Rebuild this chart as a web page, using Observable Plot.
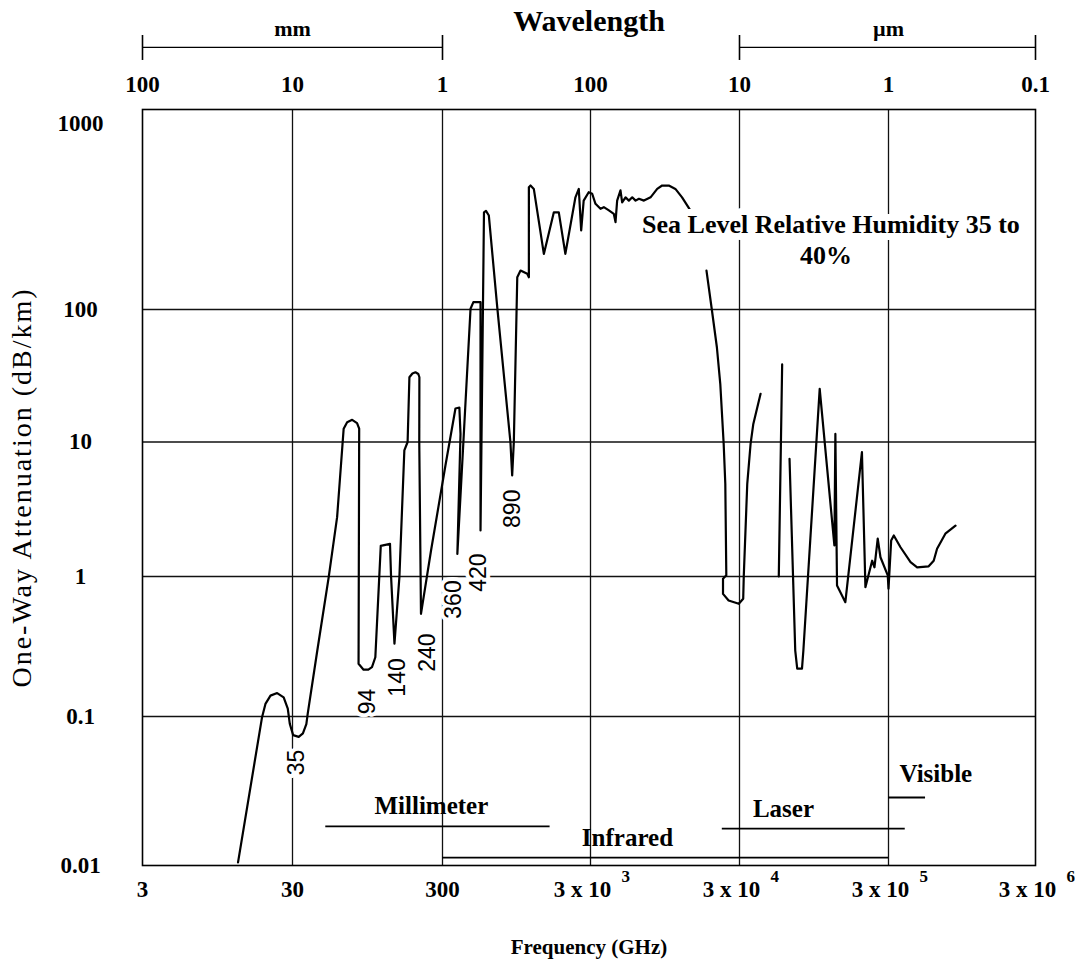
<!DOCTYPE html>
<html>
<head>
<meta charset="utf-8">
<script src="https://cdn.jsdelivr.net/npm/d3@7"></script>
<script src="https://cdn.jsdelivr.net/npm/@observablehq/plot@0.6"></script>
<style>
  html, body { margin: 0; padding: 0; background: #fff; }
</style>
</head>
<body>
<div id="chart"></div>
<script>
// ---------- axis data ----------
const freqTicks = [3, 30, 300, 3000, 30000, 300000, 3000000];
const freqTickBase = ["3", "30", "300", "3 x 10", "3 x 10", "3 x 10", "3 x 10"];
const freqTickExp = ["", "", "", "3", "4", "5", "6"];
const wavelengthTickLabels = ["100", "10", "1", "100", "10", "1", "0.1"];
const attenTicks = [0.01, 0.1, 1, 10, 100, 1000];
const attenTickLabels = ["0.01", "0.1", "1", "10", "100", "1000"];
const attenGrid = [0.1, 1, 10, 100];
const freqGrid = [30, 300, 3000, 30000, 300000];
const wavelengthUnits = ["mm", "\u00b5m"];
const unitFrom = [3, 30000];
const unitTo = [300, 3000000];
const unitCenter = [30, 300000];

// ---------- attenuation curve, [frequency GHz, dB/km] ----------
const curveMillimeter = [
  [13.0,0.0105],[18.8,0.099],[19.8,0.123],[21.4,0.141],[23.7,0.147],[26.2,0.137],
  [27.9,0.114],[28.8,0.089],[30.3,0.075],[33.0,0.073],[35.2,0.077],[37.1,0.089],
  [37.9,0.105],[43.9,0.296],[52.3,0.99],[59.5,2.76],[65.8,12.6],[69.4,14.1],
  [75.0,14.7],[80.8,13.9],[83.5,12.6],[82.7,0.238],[89.3,0.216],[96.1,0.216],
  [101.6,0.225],[107,0.265],[116.3,1.69],[134,1.75],[136.1,1.02],[143.5,0.331],
  [154.8,0.99],[167,8.65],[175.6,10],[180.5,30.8],[189,32.9],[198,33.6],[207,32.6],
  [210.4,30.8],[210,10],[215.6,0.541],[251.6,1.56],[314,6.69],[367,17.9],[390,18.2],
  [397,11.5],[378,1.47],[418,11.5],[464,101],[485,109.5],[542,109.5],[542,2.2],
  [572,333],[590,339],[617,320],[703,102.9],[863,10],[887,5.64],[910,10],[960,149],
  [1010,162],[1121,155.6],[1150,149],[1150,454.6],[1180,464],[1242,445],[1452,199],
  [1696,333],[1832,333],[2029,199],[2373,401],[2500,445],[2595,266],[2698,385],
  [2917,427],[3079,419],[3240,370],[3501,348],[3687,355],[3986,341],[4299,327],
  [4416,295],[4529,385],[4768,437],[4893,377],[5155,401],[5427,385],[5718,401],
  [6021,385],[6340,394],[6855,385],[7590,401],[8409,445],[9075,464],[10060,464],
  [11140,445],[12350,401],[14040,341]
];
const curveFarInfrared = [
  [18010,162],[19600,98.3],[21150,51.9],[22290,27.5],[23490,9.7],[24090,4.89],
  [24470,1.02],[23250,0.964],[23250,0.751],[25350,0.674],[29680,0.638],[31770,0.693],
  [32060,1.02],[33820,4.89],[35610,9.7],[37140,13.7],[41550,23.1]
];
const curveSpike = [[55050,1.0],[58000,38.5]];
const curveNearInfrared = [
  [65000,7.5],[71000,0.296],[73200,0.22],[78800,0.22],[80500,0.296],[103600,25.2],
  [130000,1.70],[132000,11.5],[135400,0.862],[154000,0.655],[199000,8.4],[210000,0.839],
  [233000,1.31],[241500,1.17],[254000,1.91],[265000,1.39],[296600,1.02],[300000,0.82],
  [312800,1.85],[326000,2.02],[362000,1.65],[423700,1.28],[470000,1.17],[563000,1.19],
  [609000,1.31],[642000,1.61],[731000,2.08],[857000,2.39]
];
const curveSegments = [curveMillimeter, curveFarInfrared, curveSpike, curveNearInfrared];

// ---------- window labels (rotated) ----------
const windowLabels = ["35", "94", "140", "240", "360", "420", "890"];
const windowLabelFreq = [31.9, 94.9, 150, 238, 356, 525, 891];
const windowLabelAtten = [0.0491, 0.128, 0.19, 0.286, 0.685, 1.07, 3.19];

// ---------- spectral bands ----------
const bandNames = ["Millimeter", "Infrared", "Laser", "Visible"];
const bandFrom = [50, 300, 23000, 300000];
const bandTo = [1600, 300000, 390000, 536000];
const bandLevel = [0.0183, 0.0113, 0.0177, 0.0286];
const bandLabelFreq = [253, 5310, 59200, 630000];
const bandLabelAtten = [0.0249, 0.0154, 0.0241, 0.0414];

// ---------- annotation ----------
const noteLines = ["Sea Level Relative Humidity 35 to", "40%"];
const noteFreq = [123300, 114000];
const noteAtten = [286, 195];

const yTitle = "One-Way Attenuation (dB/km)";
const xTitle = "Frequency (GHz)";
const topTitle = "Wavelength";

// header (wavelength bracket) levels expressed on the extended y scale
const bracketLevel = 4000, bracketTickTop = 5050, bracketTickBottom = 3100;

const serif = "'Liberation Serif','Times New Roman',serif";
const sans = "'Liberation Sans',Arial,sans-serif";
const idx = a => a.map((_, i) => i);

const chart = Plot.plot({
  width: 1075,
  height: 966,
  marginLeft: 142,
  marginRight: 40,
  marginTop: 109,
  marginBottom: 101,
  style: {background: "#fff", color: "#000"},
  x: {type: "log", domain: freqTicks, range: [142, 292, 442, 590, 739, 888, 1035], axis: null},
  y: {type: "log", domain: [0.01, 0.1, 1, 10, 100, 1000, 1190, 10000],
      range: [865, 716, 576, 441.5, 309, 123, 109, 0], axis: null},
  marks: [
    // grid
    Plot.ruleY(attenGrid, {y: d => d, stroke: "#111", strokeWidth: 1.3}),
    Plot.ruleX(freqGrid, {x: d => d, stroke: "#111", strokeWidth: 1.3}),
    // curves
    ...curveSegments.map(seg => Plot.line(seg, {
      x: d => d[0], y: d => d[1], stroke: "#000", strokeWidth: 2.2,
      strokeLinejoin: "round", strokeLinecap: "round"
    })),
    // bands
    Plot.ruleY(idx(bandNames), {y: i => bandLevel[i], x1: i => bandFrom[i], x2: i => bandTo[i],
      stroke: "#000", strokeWidth: 1.8}),
    Plot.text(idx(bandNames), {x: i => bandLabelFreq[i], y: i => bandLabelAtten[i], text: i => bandNames[i],
      fontFamily: serif, fontWeight: "bold", fontSize: 25, fill: "#000"}),
    // window labels
    Plot.text(idx(windowLabels), {x: i => windowLabelFreq[i], y: i => windowLabelAtten[i], text: i => windowLabels[i],
      rotate: -90, fontFamily: sans, fontSize: 23, fill: "#000", stroke: "#fff", strokeWidth: 8, paintOrder: "stroke"}),
    // humidity note
    Plot.text(idx(noteLines), {x: i => noteFreq[i], y: i => noteAtten[i], text: i => noteLines[i],
      fontFamily: serif, fontWeight: "bold", fontSize: 26, fill: "#000", stroke: "#fff", strokeWidth: 14, paintOrder: "stroke"}),
    // frame
    Plot.frame({stroke: "#000", strokeWidth: 1.6}),
    // y tick labels
    Plot.text(attenTicks, {y: d => d, text: (d, i) => attenTickLabels[i], frameAnchor: "left", dx: -62,
      textAnchor: "middle", lineAnchor: "middle", fontFamily: serif, fontWeight: "bold", fontSize: 23, fill: "#000"}),
    // x tick labels
    Plot.text(freqTicks.slice(0, 3), {x: d => d, text: (d, i) => freqTickBase[i], frameAnchor: "bottom", dy: 24,
      lineAnchor: "middle", fontFamily: serif, fontWeight: "bold", fontSize: 23, fill: "#000"}),
    Plot.text(freqTicks.slice(3), {x: d => d, text: (d, i) => freqTickBase[i + 3], frameAnchor: "bottom", dy: 24, dx: -8,
      lineAnchor: "middle", fontFamily: serif, fontWeight: "bold", fontSize: 23, fill: "#000"}),
    Plot.text(freqTicks.slice(3), {x: d => d, text: (d, i) => freqTickExp[i + 3], frameAnchor: "bottom", dy: 11, dx: 31,
      lineAnchor: "middle", textAnchor: "start", fontFamily: serif, fontWeight: "bold", fontSize: 17, fill: "#000"}),
    // top wavelength labels
    Plot.text(freqTicks, {x: d => d, text: (d, i) => wavelengthTickLabels[i], frameAnchor: "top", dy: -25,
      lineAnchor: "middle", fontFamily: serif, fontWeight: "bold", fontSize: 23, fill: "#000"}),
    // wavelength unit brackets
    Plot.ruleY(idx(wavelengthUnits), {y: () => bracketLevel, x1: i => unitFrom[i], x2: i => unitTo[i], stroke: "#000", strokeWidth: 1.4}),
    Plot.ruleX([...unitFrom, ...unitTo], {x: d => d, y1: () => bracketTickBottom, y2: () => bracketTickTop, stroke: "#000", strokeWidth: 1.6}),
    Plot.text(idx(wavelengthUnits), {x: i => unitCenter[i], text: i => wavelengthUnits[i], frameAnchor: "top", dy: -81,
      lineAnchor: "middle", fontFamily: serif, fontWeight: "bold", fontSize: 22, fill: "#000"}),
    // titles
    Plot.text([topTitle], {text: d => d, frameAnchor: "top", dy: -88, lineAnchor: "middle",
      fontFamily: serif, fontWeight: "bold", fontSize: 30, fill: "#000"}),
    Plot.text([xTitle], {text: d => d, frameAnchor: "bottom", dy: 82, lineAnchor: "middle",
      fontFamily: serif, fontWeight: "bold", fontSize: 21, fill: "#000"}),
    Plot.text([yTitle], {text: d => d, frameAnchor: "left", dx: -120, rotate: -90, textAnchor: "middle", lineAnchor: "middle",
      fontFamily: serif, fontSize: 28, fill: "#000"})
  ]
});
document.getElementById("chart").append(chart);
d3.select(chart).selectAll("text")
  .filter(function () { return this.textContent === yTitle; })
  .style("letter-spacing", "2px");
</script>
</body>
</html>
